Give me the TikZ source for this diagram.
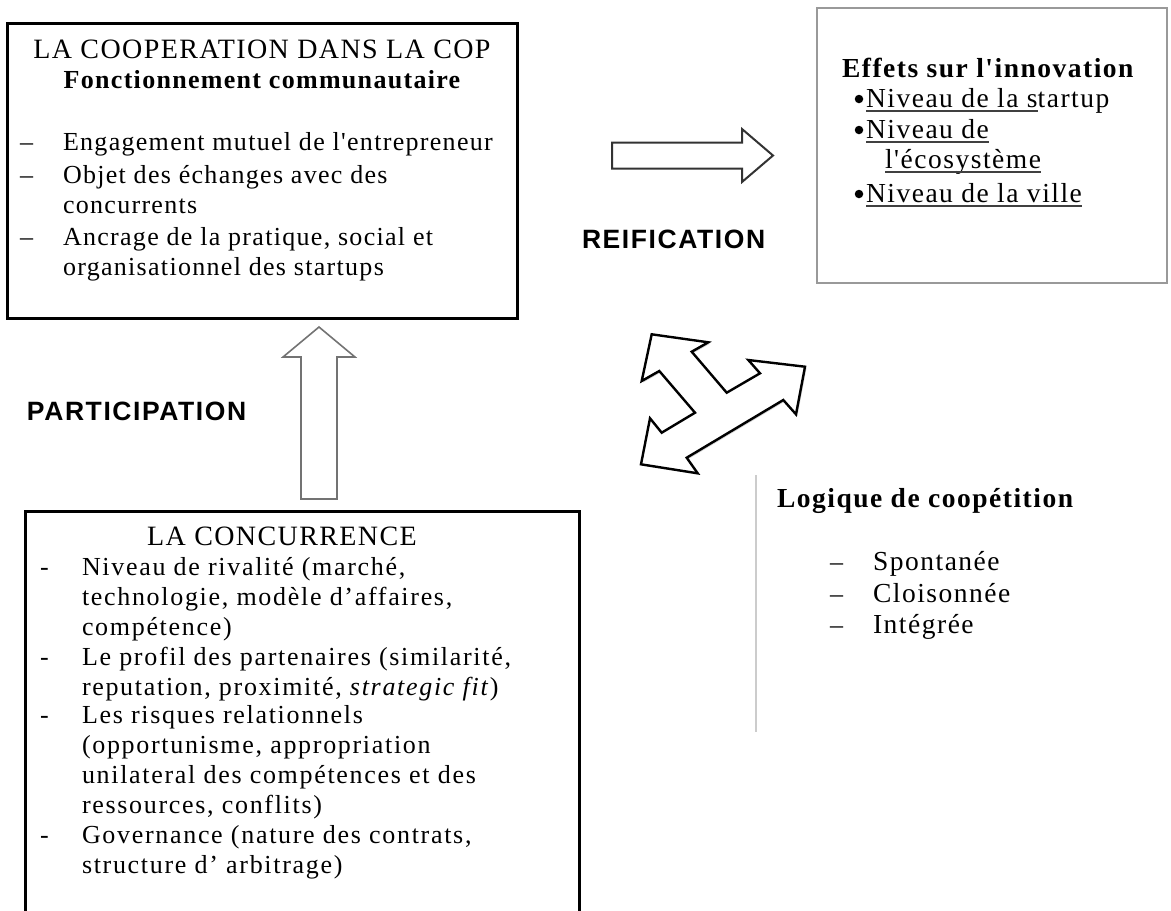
\documentclass[tikz,border=0pt]{standalone}
\usepackage{fontspec}
\setmainfont{Liberation Serif}[LetterSpace=5, Ligatures=TeXOff]
\newfontfamily\midserif{Liberation Serif}[LetterSpace=6.5, Ligatures=TeXOff]
\newfontfamily\wideserif{Liberation Serif}[LetterSpace=5.5, Ligatures=TeXOff]
\newfontfamily\labfont{Liberation Sans}[LetterSpace=6]
\usetikzlibrary{shadows}
\newcommand{\mylines}[1]{\parbox[t]{520pt}{\raggedright #1}}
\newsavebox{\myulbox}
\newcommand{\myul}[1]{\sbox{\myulbox}{#1}\rlap{\usebox{\myulbox}}{\color{black!75}\rule[-4.5pt]{\wd\myulbox}{1.2pt}}}
\begin{document}
\begin{tikzpicture}[x=1pt,y=-1pt,
  every node/.style={inner sep=0pt, outer sep=0pt, font=\fontsize{26}{30}\selectfont},
  bigbox/.style={draw=black, line width=3pt, anchor=north west},
  thinbox/.style={draw=black!40, line width=1.5pt, anchor=north west},
  titletxt/.style={anchor=base, font=\fontsize{28}{30}\selectfont},
  itemtxt/.style={anchor=base west},
  concitem/.style={anchor=base west, font=\midserif\fontsize{26}{30}\selectfont},
  rightitem/.style={anchor=base west, font=\wideserif\fontsize{27.5}{30}\selectfont},
  dashmark/.style={anchor=base west},
  flowlabel/.style={anchor=base west, font=\labfont\bfseries\fontsize{26.5}{30}\selectfont},
  dotmark/.style={circle, fill=black, minimum size=8.5pt},
  blockarrow/.style={fill=white, line join=miter}
]
\useasboundingbox (0,0) rectangle (1171,911);
\clip (0,0) rectangle (1171,911);

% ---------- boxes ----------
\node[bigbox, minimum width=510pt, minimum height=295pt] (coop) at (7,23) {};
\node[bigbox, minimum width=554pt, minimum height=440pt] (conc) at (25,511) {};
\node[thinbox, minimum width=350pt, minimum height=275pt] (eff) at (817,8) {};
\draw[black!20, line width=1.2pt] (756,475) coordinate (gl1) -- (756,732) coordinate (gl2);

% ---------- cooperation box ----------
\node[titletxt] (coopT1) at (262,58) {LA COOPERATION DANS LA COP};
\node[anchor=base] (coopT2) at (262,88) {\bfseries Fonctionnement communautaire};
\node[dashmark] (cd1) at (20,150) {–};
\node[dashmark] (cd2) at (20,183) {–};
\node[dashmark] (cd3) at (20,245) {–};
\node[itemtxt] (ci1) at (63,150) {\mylines{Engagement mutuel de l'entrepreneur}};
\node[itemtxt] (ci2) at (63,183) {\mylines{Objet des échanges avec des\\concurrents}};
\node[itemtxt] (ci3) at (63,245) {\mylines{Ancrage de la pratique, social et\\organisationnel des startups}};

% ---------- concurrence box ----------
\node[titletxt] (concT) at (282,545) {LA CONCURRENCE};
\node[dashmark] (nd1) at (40,575) {-};
\node[dashmark] (nd2) at (40,665) {-};
\node[dashmark] (nd3) at (40,723) {-};
\node[dashmark] (nd4) at (40,843) {-};
\node[concitem] (ni1) at (82,575) {\mylines{Niveau de rivalité (marché,\\technologie, modèle d’affaires,\\compétence)}};
\node[concitem] (ni2) at (82,665) {\mylines{Le profil des partenaires (similarité,\\reputation, proximité, \textit{strategic fit})}};
\node[concitem] (ni3) at (82,723) {\mylines{Les risques relationnels\\(opportunisme, appropriation\\unilateral des compétences et des\\ressources, conflits)}};
\node[concitem] (ni4) at (82,843) {\mylines{Governance (nature des contrats,\\structure d’ arbitrage)}};

% ---------- effets box ----------
\node[rightitem] (effT) at (842,77) {\bfseries Effets sur l'innovation};
\node[dotmark] (eb1) at (859,99) {};
\node[dotmark] (eb2) at (859,130) {};
\node[dotmark] (eb3) at (859,194) {};
\node[rightitem] (ei1) at (866,107) {\myul{Niveau de la s}tartup};
\node[rightitem] (ei2) at (866,138) {\myul{Niveau de}};
\node[rightitem] (ei3) at (885,168) {\myul{l'écosystème}};
\node[rightitem] (ei4) at (866,202) {\myul{Niveau de la ville}};

% ---------- logique ----------
\node[rightitem] (logT) at (777,507) {\bfseries Logique de coopétition};
\node[dashmark] (ld1) at (830,570) {–};
\node[dashmark] (ld2) at (830,602) {–};
\node[dashmark] (ld3) at (830,633) {–};
\node[rightitem] (li1) at (873,570) {Spontanée};
\node[rightitem] (li2) at (873,602) {Cloisonnée};
\node[rightitem] (li3) at (873,633) {Intégrée};

% ---------- labels ----------
\node[flowlabel] (reif) at (582,248) {REIFICATION};
\node[flowlabel] (part) at (27,420) {PARTICIPATION};

% ---------- block arrows ----------
\draw[blockarrow, draw=black!80, line width=2pt]
  (612,142.5) -- (742,142.5) -- (742,129) -- (773,155.5) -- (742,182) -- (742,168.5) -- (612,168.5) -- cycle;
\draw[blockarrow, draw=black!55, line width=1.6pt]
  (301,499) -- (301,357) -- (283,357) -- (319,327) -- (355,357) -- (337,357) -- (337,499) -- cycle;
\draw[blockarrow, draw=black, line width=2.4pt,
      drop shadow={opacity=0.35, shadow xshift=1.5pt, shadow yshift=-1.5pt}]
  (651.7,334.3) -- (708.3,342.3) -- (691.7,351.7) -- (726.7,392.7) -- (760,373.3)
  -- (748.3,360) -- (805,366.7) -- (796,414.3) -- (783.3,400) -- (686.7,457.7)
  -- (697.7,473.3) -- (641,464.3) -- (650,418.3) -- (661.7,432.7) -- (695,412.7)
  -- (659.3,371) -- (641.7,381) -- cycle;
\end{tikzpicture}
\end{document}
